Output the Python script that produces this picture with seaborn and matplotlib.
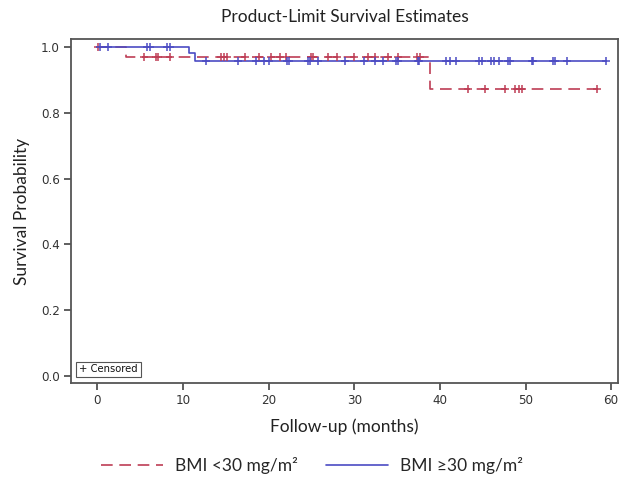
import numpy as np
import pandas as pd
import matplotlib
matplotlib.use("Agg")
import matplotlib.pyplot as plt
import seaborn as sns
from matplotlib.lines import Line2D

# ---- data ----
groups = ["BMI <30 mg/m\u00b2", "BMI \u226530 mg/m\u00b2"]

# Kaplan-Meier event times (months) and survival after each event
red_event_t = [3.4, 38.8]
red_event_s = [0.967, 0.870]
blue_event_t = [10.7, 11.4]
blue_event_s = [0.981, 0.957]

# censoring times (months)
red_censor_t = [0.1, 5.5, 6.9, 7.1, 8.5, 14.4, 14.8, 15.2, 17.2, 18.9, 20.3, 21.3, 22.0,
                25.0, 25.2, 26.9, 28.0, 30.0, 31.6, 32.4, 34.0, 35.1, 37.3, 37.7,
                43.3, 45.3, 47.6, 48.8, 49.2, 49.6, 58.4]
blue_censor_t = [0.3, 1.2, 5.8, 6.1, 8.1, 8.5, 12.7, 16.4, 18.5, 19.5, 20.1, 22.2, 22.4,
                 24.6, 24.8, 25.8, 28.9, 31.1, 32.4, 33.4, 34.9, 35.1, 37.4, 37.6,
                 40.7, 41.2, 41.9, 44.6, 44.9, 46.0, 46.3, 46.9, 48.0, 48.2, 50.7, 50.9,
                 53.2, 53.4, 54.8, 59.4]

red_end = 58.4
blue_end = 59.4

x_ticks = [0, 10, 20, 30, 40, 50, 60]
y_ticks = [0.0, 0.2, 0.4, 0.6, 0.8, 1.0]

RED = "#BE3D55"
BLUE = "#4B4BC3"


def step_frame(ev_t, ev_s, end):
    t = [0.0] + list(ev_t) + [end]
    s = [1.0] + list(ev_s) + [ev_s[-1]]
    return pd.DataFrame({"t": t, "s": s})


def surv_at(times, ev_t, ev_s):
    vals = np.concatenate([[1.0], ev_s])
    idx = np.searchsorted(np.asarray(ev_t), np.asarray(times), side="right")
    return vals[idx]


red_steps = step_frame(red_event_t, red_event_s, red_end)
blue_steps = step_frame(blue_event_t, blue_event_s, blue_end)
red_cens = pd.DataFrame({"t": red_censor_t,
                         "s": surv_at(red_censor_t, red_event_t, red_event_s)})
blue_cens = pd.DataFrame({"t": blue_censor_t,
                          "s": surv_at(blue_censor_t, blue_event_t, blue_event_s)})

sns.set_theme(style="white")
plt.rcParams["font.family"] = ["Lato", "DejaVu Sans"]

fig = plt.figure(figsize=(6.23, 4.80), dpi=100)
ax = fig.add_axes([71 / 623, 1 - 383 / 480, (618 - 71) / 623, (383 - 39) / 480])

sns.lineplot(data=red_steps, x="t", y="s", ax=ax, color=RED, lw=1.2,
             drawstyle="steps-post", estimator=None, sort=False,
             linestyle=(0, (7, 4)))
sns.lineplot(data=blue_steps, x="t", y="s", ax=ax, color=BLUE, lw=1.2,
             drawstyle="steps-post", estimator=None, sort=False)
sns.scatterplot(data=red_cens, x="t", y="s", ax=ax, marker="+", color=RED,
                s=40, linewidth=1.1, zorder=3)
sns.scatterplot(data=blue_cens, x="t", y="s", ax=ax, marker="+", color=BLUE,
                s=40, linewidth=1.1, zorder=3)

ax.set_xlim(-3.07, 60.8)
ax.set_ylim(-0.02, 1.023)
ax.set_xticks(x_ticks)
ax.set_yticks(y_ticks)
ax.set_yticklabels([f"{v:.1f}" for v in y_ticks])
for lab in ax.get_xticklabels() + ax.get_yticklabels():
    lab.set_family("DejaVu Sans")
    lab.set_stretch("condensed")
    lab.set_fontsize(9.5)
    lab.set_color("#333333")
ax.tick_params(axis="both", which="major", direction="out", length=5, width=1.2,
               color="#444444", bottom=True, left=True, pad=3)
for sp in ax.spines.values():
    sp.set_color("#555555")
    sp.set_linewidth(1.3)

ax.set_xlabel("Follow-up (months)", fontsize=12.5, color="#222222", labelpad=8)
ax.set_ylabel("Survival Probability", fontsize=12.5, color="#222222", labelpad=8)
ax.set_title("Product-Limit Survival Estimates", fontsize=12.5, color="#222222", pad=12)

# censored key box
ax.text(0.015, 0.025, "+ Censored", transform=ax.transAxes, fontsize=8,
        family="DejaVu Sans", stretch="condensed", color="#111111",
        va="bottom", ha="left",
        bbox=dict(boxstyle="square,pad=0.25", fc="white", ec="#555555", lw=0.8))

handles = [Line2D([], [], color=RED, lw=1.2, linestyle=(0, (7, 4))),
           Line2D([], [], color=BLUE, lw=1.2)]
fig.legend(handles, groups, loc="center", bbox_to_anchor=(312 / 623, 1 - 466 / 480),
           ncol=2, frameon=False, fontsize=12.5, handlelength=3.6, columnspacing=1.6,
           handletextpad=0.7)

fig.savefig("out.png", dpi=100)
